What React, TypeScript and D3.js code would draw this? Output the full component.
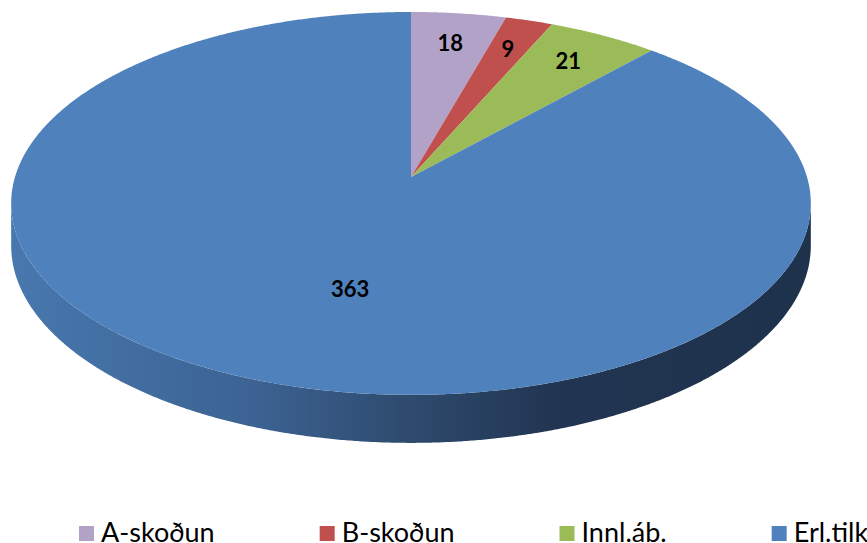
import React, { useEffect, useRef } from 'react';
import * as d3 from 'd3';

// chart data
const categories = ['A-skoðun', 'B-skoðun', 'Innl.áb.', 'Erl.tilk'];
const values = [18, 9, 21, 363];
const colors = ['#b3a2c7', '#c0504d', '#9bbb59', '#4f81bd'];

// label placement inside each slice (fraction of radius, angle nudge in degrees)
const labelRadius = [0.8, 0.8, 0.8, 0.57];
const labelNudge = [0, 0, 0, -6.6];

const width = 867;
const height = 543;

function PieChart3D() {
  const ref = useRef<SVGSVGElement>(null);

  useEffect(() => {
    const svg = d3.select(ref.current);
    svg.selectAll('*').remove();

    // perspective of the disc: centre, half axes, tilt, thickness
    const cx = 411, cy = 177;
    const ax = 396, ay = 187.8;
    const tilt = 0.138;
    const depth = 41.4;

    const project = (r: number, a: number): [number, number] => {
      const u = r * Math.sin(a);
      const v = -r * Math.cos(a);
      const w = 1 - tilt * v;
      return [cx + (ax * u) / w, cy + (ay * v) / w];
    };
    const drop = (a: number) => depth / (1 + tilt * Math.cos(a));

    const sample = (a0: number, a1: number) => {
      const n = Math.max(2, Math.ceil(Math.abs(a1 - a0) / 0.005));
      return d3.range(n + 1).map(i => a0 + ((a1 - a0) * i) / n);
    };

    const defs = svg.append('defs');
    const grad = defs.append('linearGradient')
      .attr('id', 'side')
      .attr('gradientUnits', 'userSpaceOnUse')
      .attr('x1', cx - 400).attr('x2', cx + 400)
      .attr('y1', 0).attr('y2', 0);
    grad.append('stop').attr('offset', 0).attr('stop-color', '#4878ae');
    grad.append('stop').attr('offset', 0.3).attr('stop-color', '#3c6393');
    grad.append('stop').attr('offset', 0.5).attr('stop-color', '#2e4a6d');
    grad.append('stop').attr('offset', 0.69).attr('stop-color', '#213451');
    grad.append('stop').attr('offset', 1).attr('stop-color', '#1f324c');

    // visible side wall, between the two silhouette points
    const aR = Math.acos(-tilt);
    const aL = 2 * Math.PI - aR;
    const arcAngles = sample(aR, aL);
    const topEdge = arcAngles.map(a => project(1, a));
    const bottomEdge = arcAngles.map(a => {
      const p = project(1, a);
      return [p[0], p[1] + drop(a)] as [number, number];
    }).reverse();
    const line = d3.line();
    svg.append('path')
      .attr('d', line([...topEdge, ...bottomEdge]) + 'Z')
      .attr('fill', 'url(#side)');

    // top face slices
    const pie = d3.pie<number>().sort(null).value(d => d);
    const arcs = pie(values);

    svg.selectAll('path.slice')
      .data(arcs)
      .enter()
      .append('path')
      .attr('class', 'slice')
      .attr('d', d => {
        const pts = sample(d.startAngle, d.endAngle).map(a => project(1, a));
        return line([[cx, cy], ...pts]) + 'Z';
      })
      .attr('fill', (d, i) => colors[i]);

    // data labels
    svg.selectAll('text.label')
      .data(arcs)
      .enter()
      .append('text')
      .attr('class', 'label')
      .attr('x', (d, i) => project(labelRadius[i], (d.startAngle + d.endAngle) / 2 + labelNudge[i] * Math.PI / 180)[0])
      .attr('y', (d, i) => project(labelRadius[i], (d.startAngle + d.endAngle) / 2 + labelNudge[i] * Math.PI / 180)[1])
      .attr('dy', '0.36em')
      .attr('text-anchor', 'middle')
      .attr('font-family', 'Lato, Carlito, Calibri, sans-serif')
      .attr('font-weight', 'bold')
      .attr('font-size', 22)
      .attr('fill', '#000')
      .text(d => d.data);

    // legend, laid out left to right
    const legend = svg.append('g').attr('class', 'legend');
    let x = 79;
    categories.forEach((name, i) => {
      legend.append('rect')
        .attr('x', x).attr('y', 526)
        .attr('width', 15).attr('height', 15)
        .attr('fill', colors[i]);
      const t = legend.append('text')
        .attr('x', x + 22).attr('y', 542)
        .attr('font-family', 'Lato, Carlito, Calibri, sans-serif')
        .attr('font-size', 27)
        .attr('fill', '#000')
        .text(name);
      const w = (t.node() as SVGTextElement).getComputedTextLength();
      x += 22 + w + 105;
    });
  }, []);

  return (
    <svg
      ref={ref}
      width={width}
      height={height}
      style={{ position: 'absolute', left: 0, top: 0, background: '#fff' }}
    />
  );
}

export default function App() {
  return <PieChart3D />;
}
